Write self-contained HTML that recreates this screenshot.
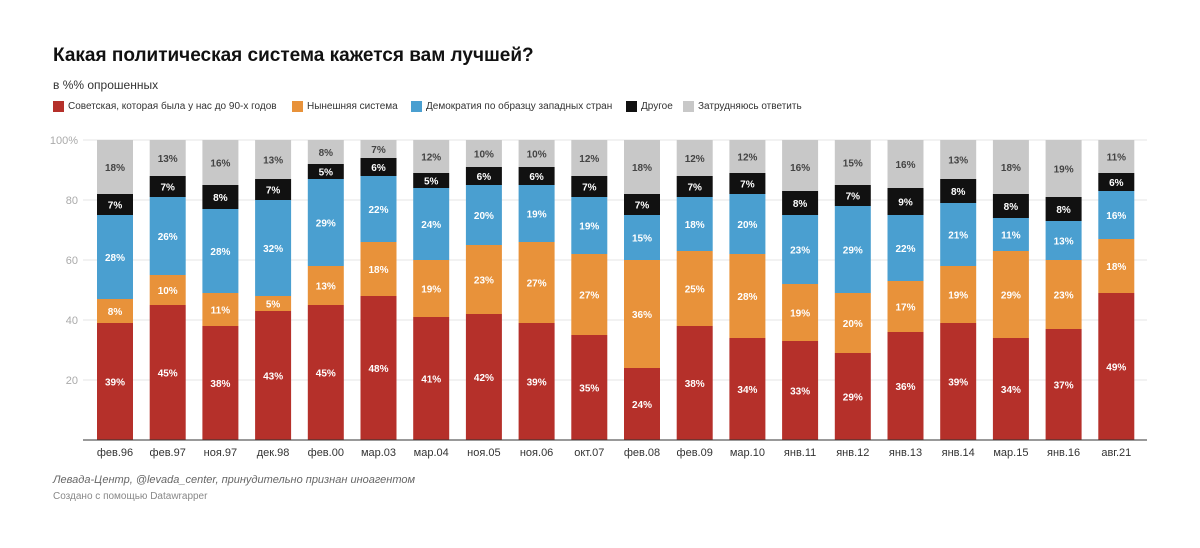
<!DOCTYPE html>
<html><head><meta charset="utf-8">
<style>
body{margin:0;background:#fff;font-family:"Liberation Sans","Noto Sans CJK SC",sans-serif;}
#wrap{position:relative;width:1200px;height:548px;overflow:hidden;}
.t{position:absolute;white-space:nowrap;}
.leg{position:absolute;top:101px;font-size:10px;color:#333;display:flex;align-items:center;white-space:nowrap;}
.sw{display:inline-block;width:11px;height:11px;margin-right:4px;}
</style></head><body>
<div id="wrap">
<div class="t" style="left:53px;top:45px;font-size:19px;font-weight:bold;color:#111;">Какая политическая система кажется вам лучшей?</div>
<div class="t" style="left:53px;top:78px;font-size:12px;color:#333;">в %% опрошенных</div>
<div class="leg" style="left:53px;"><span class="sw" style="background:#b5302a"></span>Советская, которая была у нас до 90-х годов</div>
<div class="leg" style="left:292px;"><span class="sw" style="background:#e8923a"></span>Нынешняя система</div>
<div class="leg" style="left:411px;"><span class="sw" style="background:#4a9fd0"></span>Демократия по образцу западных стран</div>
<div class="leg" style="left:626px;"><span class="sw" style="background:#111"></span>Другое</div>
<div class="leg" style="left:683px;"><span class="sw" style="background:#c8c8c8"></span>Затрудняюсь ответить</div>
<svg id="svg" width="1200" height="548" style="position:absolute;left:0;top:0"></svg>
<div class="t" style="left:53px;top:474px;font-size:11px;font-style:italic;color:#666;">Левада-Центр, @levada_center, принудительно признан иноагентом</div>
<div class="t" style="left:53px;top:491px;font-size:10px;color:#888;">Создано с помощью Datawrapper</div>
</div>
<script>
const categories=["фев.96","фев.97","ноя.97","дек.98","фев.00","мар.03","мар.04","ноя.05","ноя.06","окт.07","фев.08","фев.09","мар.10","янв.11","янв.12","янв.13","янв.14","мар.15","янв.16","авг.21"];
const soviet=[39,45,38,43,45,48,41,42,39,35,24,38,34,33,29,36,39,34,37,49];
const current=[8,10,11,5,13,18,19,23,27,27,36,25,28,19,20,17,19,29,23,18];
const democracy=[28,26,28,32,29,22,24,20,19,19,15,18,20,23,29,22,21,11,13,16];
const other=[7,7,8,7,5,6,5,6,6,7,7,7,7,8,7,9,8,8,8,6];
const hard=[18,13,16,13,8,7,12,10,10,12,18,12,12,16,15,16,13,18,19,11];
const yTicks=[20,40,60,80,100];
const series=[[soviet,"#b5302a","#fff","soviet"],[current,"#e8923a","#fff","current"],[democracy,"#4a9fd0","#fff","democracy"],[other,"#111","#fff","other"],[hard,"#c8c8c8","#444","hard-to-say"]];
const svg=document.getElementById('svg');const NS="http://www.w3.org/2000/svg";
const y0=440,y100=140;const y=v=>y0-(y0-y100)*v/100;
const x=i=>115+i*52.7;const bw=36;
function mk(tag,a,txt){const e=document.createElementNS(NS,tag);for(const k in a)e.setAttribute(k,a[k]);if(txt!=null)e.textContent=txt;svg.appendChild(e);return e;}
yTicks.forEach(t=>{
 const g=mk('line',{x1:83,x2:1147,y1:y(t),y2:y(t),stroke:'#e6e6e6','stroke-width':1});
 
 
 const l=mk('text',{x:78,y:y(t)+4,'text-anchor':'end','font-size':11,fill:'#aaa','font-family':'Liberation Sans'},t===100?'100%':t);
 
 
});
categories.forEach((c,i)=>{
 let cum=0;
 series.forEach((s,si)=>{
  const v=s[0][i];let top=Math.min(100,cum+v);
  const mid=(y(cum)+y(top))/2;
  const rtop=si===series.length-1?100:top;
  const r=mk('rect',{x:x(i)-bw/2,y:y(rtop),width:bw,height:y(cum)-y(rtop),fill:s[1]});
  
  
  const tl=mk('text',{x:x(i),y:mid+4,'text-anchor':'middle','font-size':10,'font-weight':'bold',fill:s[2],'font-family':'Liberation Sans'},v+'%');
  
  
  cum=top;
 });
 const xl=mk('text',{x:x(i),y:456,'text-anchor':'middle','font-size':11,fill:'#333','font-family':'Liberation Sans'},c);
 
 
});
const ax=mk('line',{x1:83,x2:1147,y1:y0,y2:y0,stroke:'#333','stroke-width':1});


</script>
</body></html>
